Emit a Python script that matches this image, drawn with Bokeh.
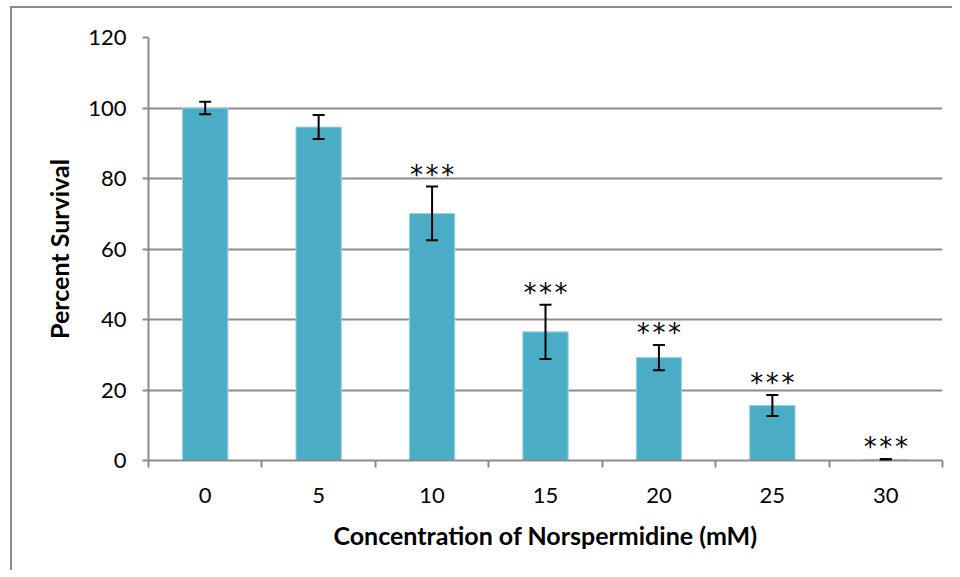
from bokeh.plotting import figure
from bokeh.models import ColumnDataSource, Whisker, TeeHead, FixedTicker, Range1d
from bokeh.core.properties import value
from bokeh.embed import file_html
from bokeh.resources import INLINE

# ---- data ----
concentration_labels = ["0", "5", "10", "15", "20", "25", "30"]
percent_survival = [100.0, 94.6, 70.1, 36.5, 29.2, 15.6, 0.2]
error_sem = [1.8, 3.4, 7.6, 7.7, 3.6, 3.0, 0.2]
STARS = "*\u200a*\u200a*"
significance = ["", "", STARS, STARS, STARS, STARS, STARS]
y_ticks = [0, 20, 40, 60, 80, 100, 120]

x_pos = list(range(len(concentration_labels)))
src = ColumnDataSource(dict(
    x=x_pos,
    survival=percent_survival,
    upper=[m + e for m, e in zip(percent_survival, error_sem)],
    lower=[m - e for m, e in zip(percent_survival, error_sem)],
    sig=significance,
))

GRAY = "#8c8c8c"
FONT = "Lato"

p = figure(frame_width=794, frame_height=423,
           min_border_left=136, min_border_right=10,
           min_border_top=29, min_border_bottom=110,
           x_range=Range1d(-0.5, len(x_pos) - 0.5), y_range=Range1d(0, 120),
           output_backend="svg", toolbar_location=None)
p.styles = {"border-left": "2px solid #8c8c8c", "border-top": "2px solid #8c8c8c",
            "margin-left": "10px", "margin-top": "6px"}
p.outline_line_color = None
p.background_fill_color = "white"
p.border_fill_color = "white"

p.vbar(x="x", top="survival", width=0.4, source=src,
       fill_color="#4BACC6", line_color="#9fd3e2", line_width=1)

head = dict(size=12, line_width=2, line_color="black")
p.add_layout(Whisker(base="x", upper="upper", lower="lower", source=src,
                     line_color="black", line_width=2, level="annotation",
                     upper_head=TeeHead(**head), lower_head=TeeHead(**head)))

p.text(x="x", y="upper", text="sig", source=src, text_font=value("DejaVu Sans"),
       text_font_size="26px", text_align="center", text_baseline="alphabetic",
       text_color="black", y_offset=-12)

# x axis: labels at centers, tick marks at category boundaries
xa = p.xaxis[0]
xa.ticker = FixedTicker(ticks=x_pos, minor_ticks=[i - 0.5 for i in range(len(x_pos) + 1)])
xa.major_label_overrides = {i: lab for i, lab in zip(x_pos, concentration_labels)}
xa.major_tick_line_color = None
xa.major_tick_in = 0
xa.major_tick_out = 0
xa.minor_tick_in = 0
xa.minor_tick_out = 7
xa.minor_tick_line_color = GRAY
xa.minor_tick_line_width = 2
xa.axis_line_color = GRAY
xa.axis_line_width = 2
xa.major_label_text_font = FONT
xa.major_label_text_font_size = "22px"
xa.major_label_text_color = "black"
xa.major_label_standoff = 20
xa.axis_label = "Concentration of Norspermidine (mM)"
xa.axis_label_text_font = FONT
xa.axis_label_text_font_style = "bold"
xa.axis_label_text_font_size = "25px"
xa.axis_label_text_color = "black"
xa.axis_label_standoff = 14

ya = p.yaxis[0]
ya.ticker = FixedTicker(ticks=y_ticks)
ya.minor_tick_line_color = None
ya.major_tick_in = 0
ya.major_tick_out = 6
ya.major_tick_line_color = GRAY
ya.major_tick_line_width = 2
ya.axis_line_color = GRAY
ya.axis_line_width = 2
ya.major_label_text_font = FONT
ya.major_label_text_font_size = "22px"
ya.major_label_text_color = "black"
ya.major_label_standoff = 16
ya.axis_label = "Percent Survival"
ya.axis_label_text_font = FONT
ya.axis_label_text_font_style = "bold"
ya.axis_label_text_font_size = "25px"
ya.axis_label_text_color = "black"
ya.axis_label_standoff = 11

p.xgrid.grid_line_color = None
p.ygrid.grid_line_color = GRAY
p.ygrid.grid_line_width = 2

open("out.html", "w").write(file_html(p, INLINE))
